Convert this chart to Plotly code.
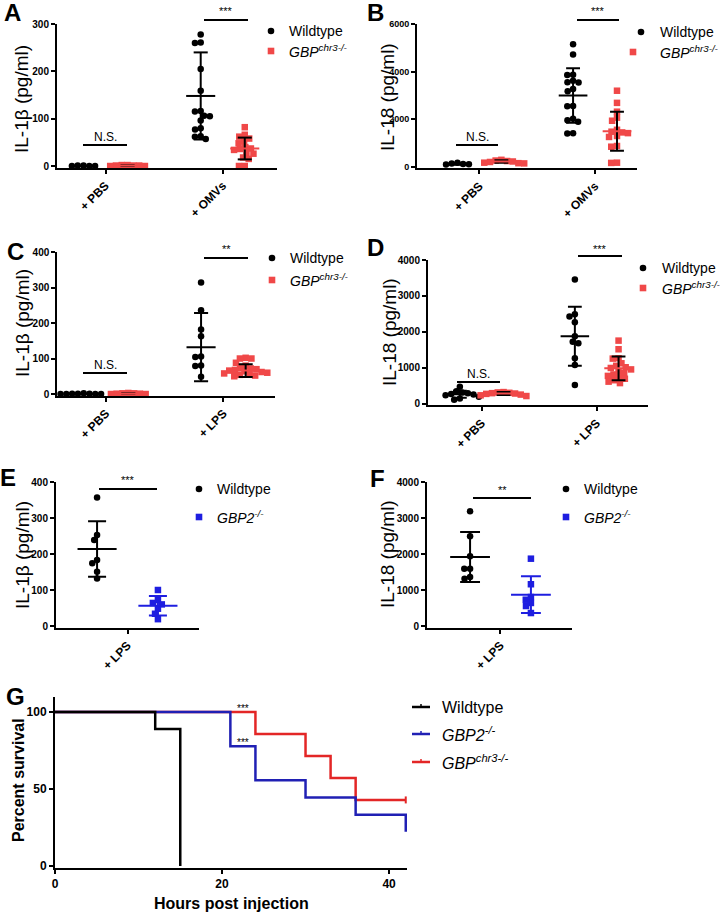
import numpy as np
import plotly.graph_objects as go

W, H = 720, 912
FONT = "Liberation Sans"
BLACK = "#000000"
RED = "#F04848"
BLUE = "#1E1EE0"
SRED = "#E32626"
SBLUE = "#2020B4"

# ---------------- data ----------------
cats_AB = ["+ PBS", "+ OMVs"]
cats_CD = ["+ PBS", "+ LPS"]
cats_EF = ["+ LPS"]

# Panel A: IL-1b, OMVs
A_wt = [[1, 0, 0, 1, 0],
        [278, 261, 260, 205, 159, 116, 115, 106, 105, 96, 80, 77, 63, 62, 57]]
A_ko = [[2, 1, 1, 0, 0, 1, 2],
        [82, 66, 62, 58, 52, 48, 40, 37, 36, 34, 28, 26, 18, 15, 0, 0]]
A_wt_mean = [0, 148]
A_wt_sd = [0, 92]
A_ko_mean = [1, 37]
A_ko_sd = [0.5, 23]

# Panel B: IL-18, OMVs
B_wt = [[180, 150, 120, 110, 100],
        [5150, 4720, 3870, 3860, 3620, 3560, 3540, 3270, 3180, 2560, 2550, 2020, 1960, 1900, 1420, 1400]]
B_ko = [[300, 270, 250, 230, 210, 180, 160, 150],
        [3200, 2690, 2320, 2070, 1940, 1560, 1480, 1450, 1420, 1300, 1260, 880, 850, 180, 170]]
B_wt_mean = [130, 3000]
B_wt_sd = [35, 1140]
B_ko_mean = [230, 1500]
B_ko_sd = [50, 815]

# Panel C: IL-1b, LPS
C_wt = [[2, 1, 1, 0, 0, 0, 1, 0],
        [314, 236, 182, 163, 106, 104, 80, 79, 49]]
C_ko = [[3, 2, 1, 1, 0, 0, 2],
        [102, 100, 100, 88, 80, 76, 72, 70, 68, 66, 64, 62, 60, 58, 56, 54, 52, 50]]
C_wt_mean = [0, 132]
C_wt_sd = [0, 96]
C_ko_mean = [1, 66]
C_ko_sd = [0.5, 18]

# Panel D: IL-18, LPS
D_wt = [[480, 350, 320, 300, 280, 260, 240, 200, 150, 120],
        [3460, 2490, 2430, 2270, 1880, 1730, 1690, 1270, 1080, 530]]
D_ko = [[330, 320, 310, 300, 290, 280, 260, 240, 220],
        [1760, 1520, 1270, 1260, 1130, 1060, 1020, 1000, 960, 900, 860, 820, 780, 740, 700, 660, 620, 580]]
D_wt_mean = [270, 1880]
D_wt_sd = [100, 820]
D_ko_mean = [290, 990]
D_ko_sd = [40, 330]

# Panel E: IL-1b, GBP2
E_wt = [[357, 253, 239, 183, 174, 151, 132]]
E_ko = [[100, 72, 64, 60, 48, 34, 19]]
E_wt_mean = [214]
E_wt_sd = [77]
E_ko_mean = [56]
E_ko_sd = [27]

# Panel F: IL-18, GBP2
F_wt = [[3190, 2490, 1935, 1590, 1590, 1360, 1310]]
F_ko = [[1870, 1160, 805, 730, 640, 555, 360]]
F_wt_mean = [1917]
F_wt_sd = [695]
F_ko_mean = [870]
F_ko_sd = [510]

# Panel G: survival
G_wt_t = [0, 12, 15]
G_wt_s = [100, 88.9, 0]
G_gbp2_t = [0, 21, 24, 30, 36, 42]
G_gbp2_s = [100, 77.8, 55.6, 44.4, 33.3, 22.2]
G_chr3_t = [0, 24, 30, 33, 36, 42]
G_chr3_s = [100, 85.7, 71.4, 57.1, 42.9, 42.9]

# ---------------- helpers ----------------
def PX(x):
    return x / W

def PY(y):
    return 1 - y / H

fig = go.Figure()
layout = {}
shapes = []
annots = []


def names(i):
    s = '' if i == 1 else str(i)
    return 'x' + s, 'y' + s, 'xaxis' + s, 'yaxis' + s


def set_axes(i, xd, yd, xr, yr, xt, xtt, yt, xfont, yfont, tickangle):
    xn, yn, xa, ya = names(i)
    common = dict(showline=True, linecolor='black', linewidth=2, ticks='outside',
                  ticklen=4, tickwidth=2, tickcolor='black', showgrid=False,
                  zeroline=False, automargin=False, fixedrange=True)
    layout[xa] = dict(domain=[PX(xd[0]), PX(xd[1])], range=list(xr), anchor=yn,
                      tickvals=xt, ticktext=xtt, tickangle=tickangle,
                      tickfont=dict(family=FONT, size=xfont, color='black', weight='bold'),
                      **common)
    layout[ya] = dict(domain=[PY(yd[1]), PY(yd[0])], range=list(yr), anchor=xn,
                      tickvals=yt, tickfont=dict(family=FONT, size=yfont, color='black', weight='bold'),
                      **common)


def swarm(values, xpu, ypu, d=5.8):
    order = np.argsort(-np.asarray(values, dtype=float), kind='stable')
    placed = []
    offs = [0.0] * len(values)
    for i in order:
        y = values[i] * ypu
        cands = [0.0]
        for (px_, py_) in placed:
            dy = y - py_
            if abs(dy) < d:
                dx = (d * d - dy * dy) ** 0.5
                cands += [px_ + dx, px_ - dx]
        cands.sort(key=lambda c: (abs(c), c))
        chosen = cands[-1]
        for c in cands:
            if all((c - a) ** 2 + (y - b) ** 2 >= d * d - 1e-6 for a, b in placed):
                chosen = c
                break
        placed.append((chosen, y))
        offs[i] = chosen / xpu
    return offs


def hline(x0, x1, y, color='black', w=2):
    shapes.append(dict(type='line', xref='paper', yref='paper', x0=PX(x0), x1=PX(x1),
                       y0=PY(y), y1=PY(y), line=dict(color=color, width=w)))


def text(x, y, s, size, bold=False, xanchor='center', angle=0, color='black'):
    annots.append(dict(xref='paper', yref='paper', x=PX(x), y=PY(y), text=s, showarrow=False,
                       xanchor=xanchor, yanchor='middle', textangle=angle,
                       font=dict(family=FONT, size=size, color=color,
                                 weight='bold' if bold else 'normal')))


def errbar(xn, yn, c, m, s, mw, cw, mcolor, scolor):
    fig.add_trace(go.Scatter(
        x=[c, c, None, c - cw, c + cw, None, c - cw, c + cw],
        y=[m - s, m + s, None, m + s, m + s, None, m - s, m - s],
        xaxis=xn, yaxis=yn, mode='lines', line=dict(color=scolor, width=2),
        showlegend=False, hoverinfo='skip'))
    fig.add_trace(go.Scatter(
        x=[c - mw, c + mw], y=[m, m], xaxis=xn, yaxis=yn, mode='lines',
        line=dict(color=mcolor, width=2), showlegend=False, hoverinfo='skip'))


def dot_panel(i, xd, yd, xr, yr, yt, yfont, cats, wt, ko, wtm, wts, kom, kos,
              kocolor, komean, kosd, off, mw, cw):
    xn, yn, _, _ = names(i)
    set_axes(i, xd, yd, xr, yr, list(range(1, len(cats) + 1)), cats, yt, 12, yfont, -45)
    xpu = (xd[1] - xd[0]) / (xr[1] - xr[0])
    ypu = (yd[1] - yd[0]) / (yr[1] - yr[0])
    for g in range(len(cats)):
        c = g + 1
        for vals, sign, color, sym in [(wt[g], -1, BLACK, 'circle'), (ko[g], 1, kocolor, 'square')]:
            offs = swarm(vals, xpu, ypu)
            fig.add_trace(go.Scatter(
                x=[c + sign * off + o for o in offs], y=vals, xaxis=xn, yaxis=yn,
                mode='markers', marker=dict(symbol=sym, size=6.5, color=color, line=dict(width=0)),
                showlegend=False, cliponaxis=False, hoverinfo='skip'))
    for g in range(len(cats)):
        c = g + 1
        errbar(xn, yn, c - off, wtm[g], wts[g], mw, cw, BLACK, BLACK)
        errbar(xn, yn, c + off, kom[g], kos[g], mw, cw, komean, kosd)


def dot_legend(cx_c, cy_c, cx_s, cy_s, tx, ko_label, ko_color):
    r = 3.3
    shapes.append(dict(type='circle', xref='paper', yref='paper',
                       x0=PX(cx_c - r), x1=PX(cx_c + r), y0=PY(cy_c + r), y1=PY(cy_c - r),
                       fillcolor=BLACK, line=dict(width=0)))
    shapes.append(dict(type='rect', xref='paper', yref='paper',
                       x0=PX(cx_s - r), x1=PX(cx_s + r), y0=PY(cy_s + r), y1=PY(cy_s - r),
                       fillcolor=ko_color, line=dict(width=0)))
    text(tx, cy_c, "Wildtype", 14, xanchor='left')
    text(tx, cy_s, ko_label, 14, xanchor='left')


CHR3 = "<i>GBP</i><sup><i>chr3-/-</i></sup>"
GBP2 = "<i>GBP2</i><sup><i>-/-</i></sup>"

# Panel A
dot_panel(1, (57, 277), (24, 167.9), (0.586, 2.463), (-4, 300), [0, 100, 200, 300], 10,
          cats_AB, A_wt, A_ko, A_wt_mean, A_wt_sd, A_ko_mean, A_ko_sd, RED, RED, BLACK,
          0.188, 0.124, 0.06)
# Panel B
dot_panel(2, (417, 637), (24, 168.4), (0.46, 2.363), (-60, 6000), [0, 2000, 4000, 6000], 9,
          cats_AB, B_wt, B_ko, B_wt_mean, B_wt_sd, B_ko_mean, B_ko_sd, RED, RED, BLACK,
          0.19, 0.124, 0.06)
# Panel C
dot_panel(3, (57.3, 275), (252, 395.8), (0.585, 2.44), (-5, 400), [0, 100, 200, 300, 400], 10,
          cats_CD, C_wt, C_ko, C_wt_mean, C_wt_sd, C_ko_mean, C_ko_sd, RED, RED, BLACK,
          0.19, 0.124, 0.06)
# Panel D
dot_panel(4, (428, 648), (260, 405.4), (0.533, 2.446), (-40, 4000), [0, 1000, 2000, 3000, 4000], 10,
          cats_CD, D_wt, D_ko, D_wt_mean, D_wt_sd, D_ko_mean, D_ko_sd, RED, RED, BLACK,
          0.19, 0.124, 0.06)
# Panel E
dot_panel(5, (56, 199), (482, 627.8), (0.389, 1.611), (-5, 400), [0, 100, 200, 300, 400], 10,
          cats_EF, E_wt, E_ko, E_wt_mean, E_wt_sd, E_ko_mean, E_ko_sd, BLUE, BLUE, BLUE,
          0.26, 0.167, 0.077)
# Panel F
dot_panel(6, (427, 572), (482, 627.8), (0.372, 1.611), (-50, 4000), [0, 1000, 2000, 3000, 4000], 10,
          cats_EF, F_wt, F_ko, F_wt_mean, F_wt_sd, F_ko_mean, F_ko_sd, BLUE, BLUE, BLUE,
          0.26, 0.17, 0.085)

# Panel G: survival
set_axes(7, (55, 407), (696.5, 867.6), (0, 42.15), (-1, 110), [0, 20, 40], ["0", "20", "40"],
         [0, 50, 100], 12, 12, 0)
for t, s, col in [(G_chr3_t, G_chr3_s, SRED), (G_gbp2_t, G_gbp2_s, SBLUE), (G_wt_t, G_wt_s, BLACK)]:
    fig.add_trace(go.Scatter(x=t, y=s, xaxis='x7', yaxis='y7', mode='lines',
                             line=dict(color=col, width=2.5, shape='hv'),
                             showlegend=False, hoverinfo='skip'))
fig.add_trace(go.Scatter(x=[G_chr3_t[-1]], y=[G_chr3_s[-1]], xaxis='x7', yaxis='y7', mode='markers',
                         marker=dict(symbol='line-ns', size=5, line=dict(color=SRED, width=2)),
                         showlegend=False, cliponaxis=False, hoverinfo='skip'))

# Legends
dot_legend(271, 31, 271, 51, 287, CHR3, RED)
dot_legend(641, 32, 633, 52, 658, CHR3, RED)
dot_legend(272, 258, 272, 280, 288, CHR3, RED)
dot_legend(643, 268, 643, 288, 660, CHR3, RED)
dot_legend(199, 489, 199, 517, 215, GBP2, BLUE)
dot_legend(566, 489, 566, 517, 582, GBP2, BLUE)

for yy, col, lab in [(707, BLACK, "Wildtype"), (734, SBLUE, GBP2), (762, SRED, CHR3)]:
    hline(412, 430, yy, col, 2.5)
    shapes.append(dict(type='line', xref='paper', yref='paper', x0=PX(421), x1=PX(421),
                       y0=PY(yy), y1=PY(yy - 3), line=dict(color=col, width=1.5)))
    text(440, yy, lab, 16, xanchor='left')

# Significance marks
for x0, x1, y, lab, tx, ty in [
        (83, 127, 145, "N.S.", 105, 137), (204, 248, 20, "***", 226, 11),
        (456, 498, 145, "N.S.", 477, 137), (577, 619, 20, "***", 598, 11),
        (83, 127, 373, "N.S.", 105, 365), (204, 248, 258, "**", 226, 249),
        (457, 500, 382, "N.S.", 478, 374), (578, 622, 256, "***", 600, 249),
        (99, 157, 489, "***", 128, 480), (473, 531, 498, "**", 502, 490)]:
    hline(x0, x1, y)
    text(tx, ty, lab, 12 if lab == "N.S." else 11)
text(243, 708, "***", 10)
text(243, 742, "***", 10)

# Axis titles
for x, y, s in [(22, 99, "IL-1β (pg/ml)"), (387, 97, "IL-18 (pg/ml)"),
                (22, 323, "IL-1β (pg/ml)"), (389, 332, "IL-18 (pg/ml)"),
                (22, 555, "IL-1β (pg/ml)"), (387, 554, "IL-18 (pg/ml)")]:
    text(x, y, s, 19, angle=-90)
text(18, 780, "Percent survival", 16, bold=True, angle=-90)
text(231, 903, "Hours post injection", 16, bold=True)

# Panel letters
for x, y, s in [(12, 13, "A"), (375, 13, "B"), (15, 251, "C"), (375, 248, "D"),
                (8, 477, "E"), (377, 478, "F"), (15, 696, "G")]:
    text(x, y, s, 24, bold=True)

fig.update_layout(width=W, height=H, margin=dict(l=0, r=0, t=0, b=0),
                  template='none', paper_bgcolor='white', plot_bgcolor='white',
                  showlegend=False, shapes=shapes, annotations=annots,
                  font=dict(family=FONT, color='black'), **layout)
fig.write_html("out.html", config={'displayModeBar': False, 'staticPlot': True},
               post_script="document.body.style.margin='0';document.body.style.overflow='hidden';")
